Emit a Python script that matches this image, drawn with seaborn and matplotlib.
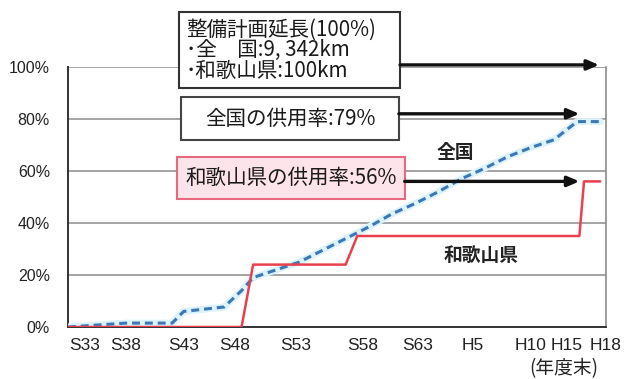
import matplotlib
matplotlib.use("Agg")
import matplotlib.pyplot as plt
from matplotlib.patches import Rectangle
from matplotlib import font_manager
import seaborn as sns
import pandas as pd

# --- data -------------------------------------------------------------
# 全国 (nationwide) opening rate, % of planned length, by fiscal year end
nat_years = [1958, 1963, 1967, 1968, 1971.5, 1973, 1974, 1976, 1978, 1980,
             1982, 1984, 1986, 1988, 1990, 1992, 1994, 1996, 1998, 2000,
             2002, 2004]
nat_pct = [0, 1.5, 1.5, 6, 7.7, 14, 19, 22, 25, 29.5,
           34, 38.5, 43.5, 47.5, 52, 57, 61, 65.5, 69, 72,
           79, 79]

# 和歌山県 (Wakayama) opening rate
wak_years = [1958, 1973, 1974, 1982, 1983, 2002.2, 2002.6, 2004]
wak_pct = [0, 0, 24, 24, 35, 35, 56, 56]

x_labels = ["S33", "S38", "S43", "S48", "S53", "S58", "S63", "H5", "H10", "H15", "H18"]
x_label_pos = [1959.4, 1963, 1968, 1972.4, 1977.7, 1983.5, 1988.2, 1993, 1998, 2001.1, 2004.5]
x_tick_marks = [1963, 1968, 1973, 1978, 1983, 1988, 1993, 1998, 2003]
y_ticks = [0, 20, 40, 60, 80, 100]
y_labels = ["0%", "20%", "40%", "60%", "80%", "100%"]

plan_text = "整備計画延長(100%)\n･全　国:9, 342km\n･和歌山県:100km"
nat_text = "全国の供用率:79%"
wak_text = "和歌山県の供用率:56%"
nat_final = 79
wak_final = 56

# --- style ------------------------------------------------------------
sns.set_style("white")
CJK = "Noto Sans CJK JP"
available = {f.name for f in font_manager.fontManager.ttflist}
num_font = "Liberation Sans Narrow" if "Liberation Sans Narrow" in available else "Liberation Sans"
plt.rcParams["font.family"] = [CJK, "DejaVu Sans"]

fig = plt.figure(figsize=(6.28, 3.79), dpi=100)
fig.patch.set_facecolor("white")
ax = fig.add_axes([68 / 628, 1 - 327 / 379, 538 / 628, 260 / 379])

nat = pd.DataFrame({"year": nat_years, "pct": nat_pct})
wak = pd.DataFrame({"year": wak_years, "pct": wak_pct})

# light halo under the dashed nationwide line
sns.lineplot(data=nat, x="year", y="pct", ax=ax, color="#dcf3fc", lw=5,
             estimator=None, sort=False, zorder=3)
sns.lineplot(data=nat, x="year", y="pct", ax=ax, color="#3d77b4", lw=2.2,
             estimator=None, sort=False, linestyle=(0, (2.6, 1.6)), zorder=4)
sns.lineplot(data=wak, x="year", y="pct", ax=ax, color="#e8404e", lw=1.8,
             estimator=None, sort=False, zorder=5)

ax.set_xlim(1958, 2004)
ax.set_ylim(0, 100)
ax.set_xlabel("")
ax.set_ylabel("")

ax.set_yticks(y_ticks)
ax.set_yticklabels(y_labels, family=[num_font, CJK], fontsize=11.5, color="#222222")
ax.tick_params(axis="y", length=0, pad=13)
ax.yaxis.grid(True, color="#8c8c8c", lw=1.1)
ax.set_axisbelow(True)

ax.set_xticks(x_label_pos)
ax.set_xticklabels(x_labels, family=[num_font, CJK], fontsize=12.5, color="#222222")
ax.tick_params(axis="x", which="major", length=0, pad=8)
ax.set_xticks(x_tick_marks, minor=True)
ax.tick_params(axis="x", which="minor", direction="in", length=4, color="#777777", width=1)

for side in ["left", "bottom"]:
    ax.spines[side].set_color("#333333")
    ax.spines[side].set_linewidth(1.4)
ax.spines["right"].set_color("#8c8c8c")
ax.spines["right"].set_linewidth(1.2)
ax.spines["top"].set_visible(False)

fig.text(564 / 628, 1 - 369 / 379, "(年度末)", ha="center", va="center",
         fontsize=13.5, color="#222222")

# --- callout boxes and arrows ----------------------------------------
def box(x0, x1, y0, y1, fc, ec):
    ax.add_patch(Rectangle((x0, y0), x1 - x0, y1 - y0, facecolor=fc,
                           edgecolor=ec, lw=1.5, clip_on=False, zorder=6))


def label(x, y, text, ha="center", fs=14.5, ls=1.0):
    ax.text(x, y, text, ha=ha, va="center", fontsize=fs, color="#1a1a1a",
            linespacing=ls, zorder=7, clip_on=False, multialignment="left")


def arrow(x0, x1, y):
    ax.annotate("", xy=(x1, y), xytext=(x0, y),
                arrowprops=dict(arrowstyle="-|>,head_length=0.7,head_width=0.3",
                                color="#111111", lw=2.4, shrinkA=0, shrinkB=0),
                annotation_clip=False, zorder=8)


box(1967.6, 1986.7, 92, 121.2, "white", "#333333")
label(1968.2, 106.4, plan_text, ha="left", fs=14.8, ls=0.94)
arrow(1986.7, 2003.9, 100.8)

box(1967.8, 1986.6, 71.9, 88.5, "white", "#444444")
label(1977.2, 80.2, nat_text, fs=14.8)
arrow(1986.6, 2002.2, nat_final + 3)

box(1967.4, 1987.1, 49.2, 65.4, "#fde3ea", "#e8697f")
label(1977.25, 57.3, wak_text, fs=14.8)
arrow(1987.1, 2002.2, wak_final)

ax.text(1991.5, 67.3, "全国", ha="center", va="center", fontsize=13.5,
        fontweight="bold", color="#222222", zorder=7)
ax.text(1993.7, 27.7, "和歌山県", ha="center", va="center", fontsize=13.5,
        fontweight="bold", color="#222222", zorder=7)

fig.savefig("out.png", dpi=100, facecolor="white")
